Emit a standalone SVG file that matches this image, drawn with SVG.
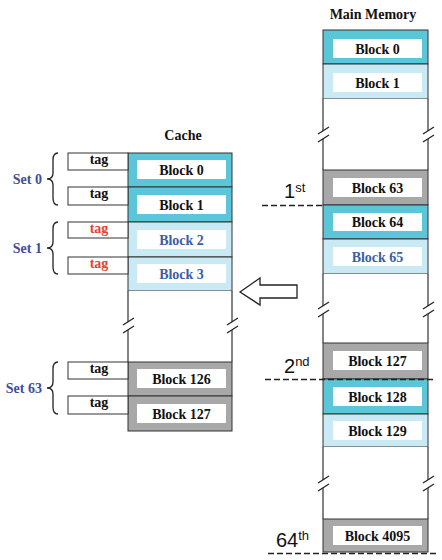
<svg xmlns="http://www.w3.org/2000/svg" width="442" height="560" viewBox="0 0 442 560">
<style>
.t{font-family:"Liberation Serif","Times New Roman",serif;font-weight:bold;font-size:14px;text-anchor:middle;fill:#111}
.blue{fill:#3B5EA6}
.red{fill:#E5432A}
.set{font-family:"Liberation Serif","Times New Roman",serif;font-weight:bold;font-size:14px;text-anchor:end;fill:#3F4E9A}
.ord{font-family:"Liberation Sans",Arial,sans-serif;font-size:20px;fill:#111}
.sup{font-size:13px}
.dk{fill:#5CC6D9;stroke:#333;stroke-width:1}
.lt{fill:#C9EAF4;stroke:#333;stroke-width:1}
.gr{fill:#A8A8A8;stroke:#333;stroke-width:1}
.wh{fill:#fff;stroke:none}
.tagbox{fill:#fff;stroke:#333;stroke-width:1}
.ln{fill:none;stroke:#333;stroke-width:1.2}
.dash{fill:none;stroke:#222;stroke-width:1.3;stroke-dasharray:6,3}
.br{fill:none;stroke:#222;stroke-width:1.3}
</style>

<text class="t" x="183" y="140">Cache</text>
<text class="t" x="373" y="19">Main Memory</text>

<!-- Cache -->
<g id="cache">
  <g id="c-block0"><rect class="dk" x="128" y="153" width="104" height="34"/><rect class="wh" x="137" y="160" width="89" height="19"/><text class="t" x="181.5" y="174.5">Block 0</text></g>
  <g id="c-block1"><rect class="dk" x="128" y="187" width="104" height="35"/><rect class="wh" x="137" y="195" width="89" height="19"/><text class="t" x="181.5" y="209.5">Block 1</text></g>
  <g id="c-block2"><rect class="lt" x="128" y="222" width="104" height="35"/><rect class="wh" x="137" y="230" width="89" height="19"/><text class="t blue" x="181.5" y="244.5">Block 2</text></g>
  <g id="c-block3"><rect class="lt" x="128" y="257" width="104" height="34"/><rect class="wh" x="137" y="264" width="89" height="19"/><text class="t blue" x="181.5" y="278.5">Block 3</text></g>
  <g id="c-gap">
    <rect x="128" y="291" width="104" height="71" fill="#fff" stroke="none"/>
    <path class="ln" d="M128,291 L128,322 M128,330 L128,362 M232,291 L232,322 M232,330 L232,362"/>
    <path class="br" d="M123,325 L134,318 M123,333 L134,326 M227,325 L238,318 M227,333 L238,326"/>
  </g>
  <g id="c-block126"><rect class="gr" x="128" y="362" width="104" height="34"/><rect class="wh" x="137" y="369" width="89" height="19"/><text class="t" x="181.5" y="383.5">Block 126</text></g>
  <g id="c-block127"><rect class="gr" x="128" y="396" width="104" height="35"/><rect class="wh" x="137" y="404" width="89" height="19"/><text class="t" x="181.5" y="418.5">Block 127</text></g>
</g>

<!-- Tags -->
<g id="tags">
  <g id="tag0"><rect class="tagbox" x="68" y="153" width="60" height="17"/><text class="t" x="99" y="164">tag</text></g>
  <g id="tag1"><rect class="tagbox" x="68" y="187" width="60" height="18"/><text class="t" x="99" y="198">tag</text></g>
  <g id="tag2"><rect class="tagbox" x="68" y="222" width="60" height="16"/><text class="t red" x="99" y="233">tag</text></g>
  <g id="tag3"><rect class="tagbox" x="68" y="257" width="60" height="17"/><text class="t red" x="99" y="268">tag</text></g>
  <g id="tag126"><rect class="tagbox" x="68" y="362" width="60" height="17"/><text class="t" x="99" y="373">tag</text></g>
  <g id="tag127"><rect class="tagbox" x="68" y="396" width="60" height="18"/><text class="t" x="99" y="407">tag</text></g>
</g>

<!-- Sets -->
<g id="set0"><path class="br" d="M58,153 Q53,153 53,160 L53,173 Q53,179 47,179 Q53,179 53,185 L53,198 Q53,205 58,205"/><text class="set" x="42" y="184">Set 0</text></g>
<g id="set1"><path class="br" d="M58,222 Q53,222 53,229 L53,242 Q53,248 47,248 Q53,248 53,254 L53,267 Q53,274 58,274"/><text class="set" x="42" y="253">Set 1</text></g>
<g id="set63"><path class="br" d="M58,362 Q53,362 53,369 L53,382 Q53,388 47,388 Q53,388 53,394 L53,407 Q53,414 58,414"/><text class="set" x="42" y="393">Set 63</text></g>

<!-- Main memory -->
<g id="memory">
  <g id="m-block0"><rect class="dk" x="323" y="30" width="105" height="34"/><rect class="wh" x="333" y="39" width="89" height="19"/><text class="t" x="377.5" y="53.5">Block 0</text></g>
  <g id="m-block1"><rect class="lt" x="323" y="64" width="105" height="35"/><rect class="wh" x="333" y="73" width="89" height="19"/><text class="t" x="377.5" y="87.5">Block 1</text></g>
  <g id="m-gap1">
    <rect x="323" y="99" width="105" height="71" fill="#fff" stroke="none"/>
    <path class="ln" d="M323,99 L323,131 M323,139 L323,170 M428,99 L428,131 M428,139 L428,170"/>
    <path class="br" d="M318,134 L329,127 M318,142 L329,135 M423,134 L434,127 M423,142 L434,135"/>
  </g>
  <g id="m-block63"><rect class="gr" x="323" y="170" width="105" height="35"/><rect class="wh" x="333" y="178" width="89" height="19"/><text class="t" x="377.5" y="192.5">Block 63</text></g>
  <g id="m-block64"><rect class="dk" x="323" y="205" width="105" height="34"/><rect class="wh" x="333" y="213" width="89" height="18"/><text class="t" x="377.5" y="227">Block 64</text></g>
  <g id="m-block65"><rect class="lt" x="323" y="239" width="105" height="35"/><rect class="wh" x="333" y="247" width="89" height="19"/><text class="t blue" x="377.5" y="261.5">Block 65</text></g>
  <g id="m-gap2">
    <rect x="323" y="274" width="105" height="69" fill="#fff" stroke="none"/>
    <path class="ln" d="M323,274 L323,306 M323,314 L323,343 M428,274 L428,306 M428,314 L428,343"/>
    <path class="br" d="M318,309 L329,302 M318,317 L329,310 M423,309 L434,302 M423,317 L434,310"/>
  </g>
  <g id="m-block127"><rect class="gr" x="323" y="343" width="105" height="36"/><rect class="wh" x="333" y="351" width="89" height="19"/><text class="t" x="377.5" y="365.5">Block 127</text></g>
  <g id="m-block128"><rect class="dk" x="323" y="379" width="105" height="35"/><rect class="wh" x="333" y="387" width="89" height="19"/><text class="t" x="377.5" y="401.5">Block 128</text></g>
  <g id="m-block129"><rect class="lt" x="323" y="414" width="105" height="33"/><rect class="wh" x="333" y="421" width="89" height="19"/><text class="t" x="377.5" y="435.5">Block 129</text></g>
  <g id="m-gap3">
    <rect x="323" y="447" width="105" height="72" fill="#fff" stroke="none"/>
    <path class="ln" d="M323,447 L323,480 M323,488 L323,519 M428,447 L428,480 M428,488 L428,519"/>
    <path class="br" d="M318,483 L329,476 M318,491 L329,484 M423,483 L434,476 M423,491 L434,484"/>
  </g>
  <g id="m-block4095"><rect class="gr" x="323" y="519" width="105" height="33"/><rect class="wh" x="333" y="526" width="89" height="19"/><text class="t" x="377.5" y="540.5">Block 4095</text></g>
</g>

<!-- connectors / markers -->
<g id="connectors">
  <path class="dash" d="M262,205.5 L323,205.5"/>
  <path class="dash" d="M265,379.5 L433,379.5"/>
  <path class="dash" d="M268,553.5 L436,553.5"/>
  <path id="arrow" d="M240,292 L260,278 L260,285 L297,285 L297,298 L260,298 L260,305 Z" fill="#fff" stroke="#222" stroke-width="1.3"/>
</g>

<g id="ordinals">
  <text class="ord" x="284" y="198">1<tspan class="sup" dy="-6">st</tspan></text>
  <text class="ord" x="284" y="373">2<tspan class="sup" dy="-7">nd</tspan></text>
  <text class="ord" x="276" y="547">64<tspan class="sup" dy="-7">th</tspan></text>
</g>
</svg>
